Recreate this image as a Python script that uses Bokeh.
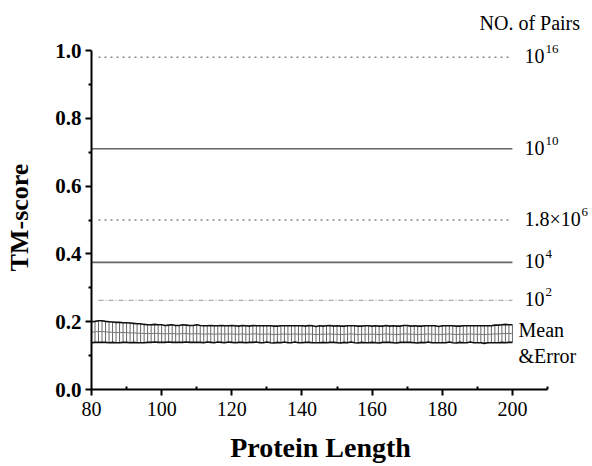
import math
from bokeh.plotting import figure
from bokeh.models import FixedTicker, Range1d, NumeralTickFormatter
from bokeh.core.properties import value
from bokeh.embed import file_html
from bokeh.resources import INLINE

# ---- data ----
lengths = list(range(80, 201))
mean_score = [
    0.169, 0.170, 0.171, 0.171, 0.170, 0.169, 0.169, 0.168, 0.168, 0.168,
    0.168, 0.167, 0.167, 0.166, 0.166, 0.165, 0.165, 0.165, 0.166, 0.165,
    0.165, 0.164, 0.165, 0.165, 0.164, 0.164, 0.165, 0.165, 0.164, 0.164,
    0.165, 0.164, 0.163, 0.164, 0.164, 0.163, 0.164, 0.164, 0.163, 0.164,
    0.164, 0.163, 0.163, 0.164, 0.163, 0.163, 0.164, 0.164, 0.163, 0.163,
    0.164, 0.163, 0.162, 0.163, 0.163, 0.164, 0.163, 0.163, 0.164, 0.163,
    0.163, 0.163, 0.164, 0.163, 0.162, 0.163, 0.163, 0.163, 0.164, 0.163,
    0.163, 0.162, 0.163, 0.163, 0.164, 0.163, 0.162, 0.163, 0.163, 0.163,
    0.163, 0.163, 0.162, 0.163, 0.164, 0.163, 0.163, 0.162, 0.163, 0.164,
    0.164, 0.163, 0.163, 0.162, 0.163, 0.163, 0.164, 0.163, 0.163, 0.162,
    0.163, 0.163, 0.164, 0.163, 0.162, 0.163, 0.163, 0.163, 0.164, 0.163,
    0.163, 0.163, 0.162, 0.163, 0.163, 0.164, 0.164, 0.165, 0.165, 0.165,
    0.165,
]
error = [
    0.031, 0.031, 0.032, 0.032, 0.031, 0.031, 0.030, 0.030, 0.030, 0.029,
    0.029, 0.029, 0.028, 0.028, 0.028, 0.027, 0.026, 0.026, 0.026, 0.026,
    0.026, 0.025, 0.025, 0.026, 0.025, 0.025, 0.026, 0.025, 0.025, 0.025,
    0.026, 0.025, 0.025, 0.024, 0.025, 0.025, 0.024, 0.025, 0.025, 0.024,
    0.025, 0.025, 0.024, 0.025, 0.025, 0.024, 0.025, 0.024, 0.025, 0.025,
    0.024, 0.025, 0.025, 0.024, 0.025, 0.024, 0.025, 0.025, 0.024, 0.025,
    0.025, 0.024, 0.025, 0.025, 0.024, 0.025, 0.024, 0.025, 0.025, 0.024,
    0.025, 0.025, 0.024, 0.025, 0.024, 0.025, 0.025, 0.024, 0.025, 0.025,
    0.024, 0.025, 0.025, 0.024, 0.025, 0.024, 0.025, 0.025, 0.024, 0.025,
    0.025, 0.024, 0.025, 0.025, 0.024, 0.025, 0.024, 0.025, 0.025, 0.024,
    0.025, 0.025, 0.024, 0.025, 0.025, 0.024, 0.025, 0.025, 0.024, 0.025,
    0.025, 0.025, 0.026, 0.025, 0.025, 0.026, 0.026, 0.026, 0.027, 0.026,
    0.026,
]
pair_levels = [0.98, 0.71, 0.50, 0.375, 0.263]
pair_base = ["10", "10", "1.8\u00d710", "10", "10"]
pair_exp = ["16", "10", "6", "4", "2"]
line_start = [82, 80, 82, 80, 82]
line_end = 200
band_labels = ["Mean", "&Error"]
header = "NO. of Pairs"
x_title = "Protein Length"
y_title = "TM-score"
x_ticks = [80, 100, 120, 140, 160, 180, 200]
x_minor = [90, 110, 130, 150, 170, 190, 210]
y_ticks = [0.0, 0.2, 0.4, 0.6, 0.8, 1.0]
y_minor = [0.1, 0.3, 0.5, 0.7, 0.9]

SERIF = "Liberation Serif"

W, H = 592, 466
AXIS_X = 91              # pixel column of length 80
AXIS_Y = 389             # pixel row of TM-score 0
PX_PER_X = 456 / 130.0   # pixels per length unit
PX_PER_Y = 339 / 1.0     # pixels per TM-score unit


def px2x(px):
    return 80 + (px - AXIS_X) / PX_PER_X


def py2y(py):
    return (AXIS_Y - py) / PX_PER_Y


p = figure(width=W, height=H, output_backend="svg", toolbar_location=None,
           x_range=Range1d(px2x(0), px2x(W)), y_range=Range1d(py2y(H), py2y(0)),
           min_border_left=0, min_border_right=0,
           min_border_top=0, min_border_bottom=0)
p.outline_line_color = None
p.grid.visible = False
p.background_fill_color = "white"
p.border_fill_color = "white"

# axes (drawn inside the frame at fixed data locations)
for ax in (p.xaxis, p.yaxis):
    ax.axis_line_width = 2
    ax.axis_line_color = "black"
    ax.major_tick_line_width = 2
    ax.minor_tick_line_width = 2
    ax.major_tick_line_color = "black"
    ax.minor_tick_line_color = "black"
    ax.major_label_text_font = SERIF
    ax.major_label_text_color = "black"

p.xaxis.fixed_location = 0
p.xaxis.bounds = (80, 210)
p.xaxis.ticker = FixedTicker(ticks=x_ticks, minor_ticks=x_minor)
p.xaxis.major_tick_out = 6
p.xaxis.major_tick_in = 0
p.xaxis.minor_tick_out = 0
p.xaxis.minor_tick_in = 3
p.xaxis.major_label_text_font_size = "20px"
p.xaxis.major_label_standoff = 6

p.yaxis.fixed_location = 80
p.yaxis.bounds = (0, 1)
p.yaxis.ticker = FixedTicker(ticks=y_ticks, minor_ticks=y_minor)
p.yaxis.formatter = NumeralTickFormatter(format="0.0")
p.yaxis.major_tick_out = 6
p.yaxis.major_tick_in = 0
p.yaxis.minor_tick_out = 3
p.yaxis.minor_tick_in = 0
p.yaxis.major_label_text_font_size = "21px"
p.yaxis.major_label_text_font_style = "bold"
p.yaxis.major_label_standoff = 4

# reference lines
styles = [
    dict(color="#888888", line_width=1.6, line_dash="2 4"),
    dict(color="#666666", line_width=1.6),
    dict(color="#888888", line_width=1.6, line_dash="2 4"),
    dict(color="#666666", line_width=1.6),
    dict(color="#aaaaaa", line_width=1.2, line_dash="5 2 1 2"),
]
for lvl, x0, st in zip(pair_levels, line_start, styles):
    p.line(x=[x0, line_end], y=[lvl, lvl], **st)

# mean & error band
upper = [m + e for m, e in zip(mean_score, error)]
lower = [m - e for m, e in zip(mean_score, error)]
p.segment(x0=lengths, y0=lower, x1=lengths, y1=upper, color="#555555", line_width=0.9)
p.line(x=lengths, y=mean_score, color="#777777", line_width=1)
p.line(x=lengths, y=upper, color="#111111", line_width=1.6)
p.line(x=lengths, y=lower, color="#111111", line_width=1.6)

# right-hand annotations
lab_x = px2x(524)
base_widths = [20, 20, 56, 20, 20]
p.text(x=[lab_x] * len(pair_levels), y=pair_levels, text=pair_base,
       y_offset=-1, text_font=value(SERIF), text_font_size="20px",
       text_baseline="alphabetic", text_align="left", text_color="black")
p.text(x=[lab_x] * len(pair_levels), y=pair_levels, text=pair_exp,
       x_offset=[w + 1 for w in base_widths], y_offset=-8,
       text_font=value(SERIF), text_font_size="13px",
       text_baseline="alphabetic", text_align="left", text_color="black")
p.text(x=[px2x(518)] * 2, y=[py2y(329), py2y(355)], text=band_labels,
       text_font=value(SERIF), text_font_size="20px",
       text_baseline="alphabetic", text_align="left", text_color="black")
p.text(x=[px2x(479)], y=[py2y(22)], text=[header],
       text_font=value(SERIF), text_font_size="20px",
       text_baseline="alphabetic", text_align="left", text_color="black")

# axis titles
p.text(x=[px2x(320)], y=[py2y(447)], text=[x_title],
       text_font=value(SERIF), text_font_size="28px", text_font_style="bold",
       text_baseline="alphabetic", text_align="center", text_color="black")
p.text(x=[px2x(19)], y=[py2y(217)], text=[y_title], angle=math.pi / 2,
       text_font=value(SERIF), text_font_size="26px", text_font_style="bold",
       text_baseline="middle", text_align="center", text_color="black")

open("out.html", "w").write(file_html(p, INLINE))
